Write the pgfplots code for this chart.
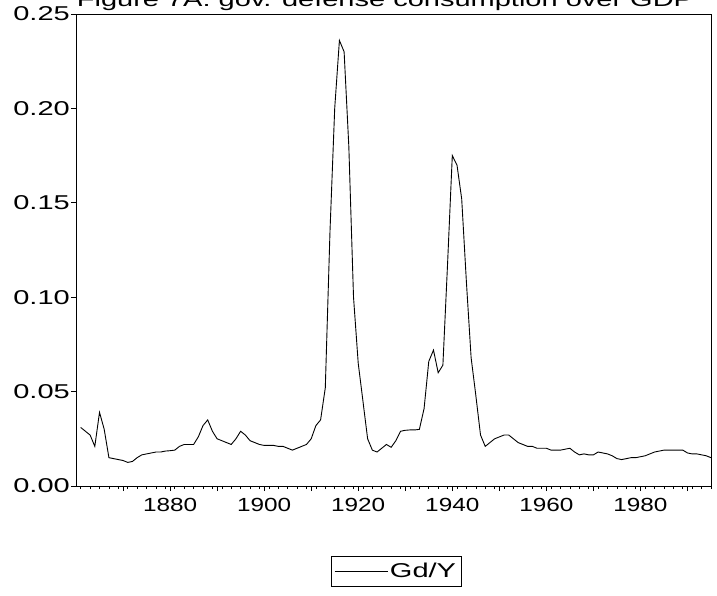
\documentclass[border=0pt]{standalone}
\usepackage{fontspec}
\setmainfont{Liberation Sans}[FakeStretch=1.45]
\newfontfamily\xfont{Liberation Sans}[FakeStretch=1.28]
\usepackage{pgfplots}
\usepackage{pgfplotstable}
\pgfplotsset{compat=1.18}
\pgfplotstableread{
year val
1861 0.031
1862 0.029
1863 0.027
1864 0.021
1865 0.039
1866 0.030
1867 0.015
1868 0.0145
1869 0.014
1870 0.0135
1871 0.0125
1872 0.013
1873 0.015
1874 0.0165
1875 0.017
1876 0.0175
1877 0.018
1878 0.018
1879 0.0185
1880 0.0187
1881 0.019
1882 0.021
1883 0.022
1884 0.022
1885 0.022
1886 0.026
1887 0.032
1888 0.035
1889 0.029
1890 0.025
1891 0.024
1892 0.023
1893 0.022
1894 0.025
1895 0.029
1896 0.027
1897 0.024
1898 0.023
1899 0.022
1900 0.0215
1901 0.0215
1902 0.0215
1903 0.021
1904 0.021
1905 0.020
1906 0.019
1907 0.020
1908 0.021
1909 0.022
1910 0.025
1911 0.032
1912 0.035
1913 0.052
1914 0.135
1915 0.200
1916 0.236
1917 0.230
1918 0.180
1919 0.100
1920 0.065
1921 0.045
1922 0.025
1923 0.019
1924 0.018
1925 0.020
1926 0.022
1927 0.0205
1928 0.024
1929 0.029
1930 0.0295
1931 0.0297
1932 0.0297
1933 0.030
1934 0.041
1935 0.066
1936 0.072
1937 0.060
1938 0.064
1939 0.118
1940 0.175
1941 0.170
1942 0.152
1943 0.108
1944 0.068
1945 0.048
1946 0.027
1947 0.021
1948 0.023
1949 0.025
1950 0.026
1951 0.027
1952 0.027
1953 0.025
1954 0.023
1955 0.022
1956 0.021
1957 0.021
1958 0.020
1959 0.020
1960 0.020
1961 0.019
1962 0.019
1963 0.019
1964 0.0195
1965 0.020
1966 0.018
1967 0.0165
1968 0.017
1969 0.0165
1970 0.0165
1971 0.018
1972 0.0175
1973 0.017
1974 0.016
1975 0.0145
1976 0.014
1977 0.0145
1978 0.015
1979 0.015
1980 0.0155
1981 0.016
1982 0.017
1983 0.018
1984 0.0185
1985 0.019
1986 0.019
1987 0.019
1988 0.019
1989 0.019
1990 0.0175
1991 0.017
1992 0.017
1993 0.0165
1994 0.016
1995 0.015
}\gddata
\begin{document}
\begin{tikzpicture}
\useasboundingbox (-76bp,-110bp) rectangle (641bp,486bp);
\begin{axis}[
  scale only axis,
  width=635bp, height=472bp,
  xmin=1860, xmax=1995,
  ymin=0, ymax=0.25,
  axis line style={line width=0.8bp},
  tick style={black, line width=0.6bp},
  tick align=outside,
  xtick pos=bottom, ytick pos=left,
  major tick length=5bp,
  minor tick length=3bp,
  xtick={1870,1880,...,1990},
  xticklabels={,1880,,1900,,1920,,1940,,1960,,1980,},
  minor xtick={1861,1863,...,1995},
  ytick={0,0.05,0.10,0.15,0.20,0.25},
  /pgf/number format/assume math mode=true,
  yticklabel style={/pgf/number format/fixed, /pgf/number format/fixed zerofill, /pgf/number format/precision=2,
    font=\fontsize{20bp}{22bp}\selectfont, inner sep=1bp},
  xticklabel style={font=\xfont\fontsize{19bp}{22bp}\selectfont, inner sep=2bp, yshift=-5bp},
  legend style={at={(0.504,-0.18)}, anchor=center, draw=black, line width=0.6bp,
    font=\fontsize{20bp}{22bp}\selectfont, inner xsep=3bp, inner ysep=5bp},
  legend image code/.code={\draw[#1] (0bp,0bp) -- (53bp,0bp);},
]
\addplot[black, line width=0.9bp] table[x=year, y=val] {\gddata};
\addlegendentry{Gd/Y}
\end{axis}
\node[anchor=base, font=\fontsize{20bp}{22bp}\selectfont] at (309bp,479bp) {Figure 7A: gov. defense consumption over GDP};
\end{tikzpicture}
\end{document}
